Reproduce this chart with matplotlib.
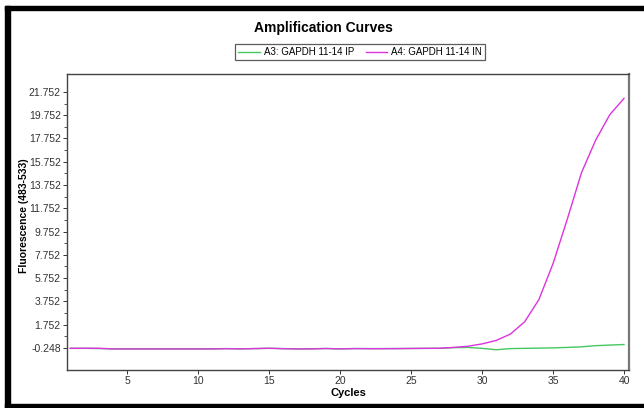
import matplotlib
matplotlib.use("Agg")
import matplotlib.pyplot as plt
from matplotlib.patches import Rectangle
from matplotlib.ticker import FixedLocator

plt.rcParams['font.family'] = ['Liberation Sans', 'DejaVu Sans']

cycles = list(range(1, 41))
ip_values = [-0.28, -0.28, -0.30, -0.32, -0.32, -0.32, -0.32, -0.32, -0.32, -0.32,
             -0.32, -0.30, -0.32, -0.30, -0.28, -0.30, -0.32, -0.31, -0.30, -0.32,
             -0.30, -0.30, -0.30, -0.30, -0.29, -0.28, -0.28, -0.22, -0.20, -0.28,
             -0.40, -0.30, -0.28, -0.26, -0.24, -0.20, -0.15, -0.05, 0.00, 0.05]
in_values = [-0.28, -0.27, -0.27, -0.33, -0.33, -0.33, -0.33, -0.33, -0.33, -0.33,
             -0.33, -0.31, -0.33, -0.30, -0.27, -0.31, -0.33, -0.33, -0.29, -0.33,
             -0.30, -0.31, -0.31, -0.30, -0.29, -0.28, -0.27, -0.20, -0.10, 0.10,
             0.40, 0.95, 2.00, 3.90, 7.00, 10.8, 14.8, 17.6, 19.8, 21.2]
series_labels = ['A3: GAPDH 11-14 IP', 'A4: GAPDH 11-14 IN']
y_ticks = [-0.248, 1.752, 3.752, 5.752, 7.752, 9.752, 11.752, 13.752, 15.752,
           17.752, 19.752, 21.752]
x_ticks = [5, 10, 15, 20, 25, 30, 35, 40]

W, H = 644, 408
fig = plt.figure(figsize=(W / 100, H / 100), dpi=100)
fig.patch.set_facecolor('white')

# black frame bands
fig.patches.append(Rectangle((5 / W, 0), 5 / W, 1 - 6 / H, transform=fig.transFigure,
                             color='black', zorder=0))
fig.patches.append(Rectangle((5 / W, 1 - 10 / H), 1 - 5 / W, 4 / H, transform=fig.transFigure,
                             color='black', zorder=0))
fig.patches.append(Rectangle((5 / W, 0), 1 - 5 / W, 4 / H, transform=fig.transFigure,
                             color='black', zorder=0))

ax = fig.add_axes([67 / W, 1 - 370 / H, (629 - 67) / W, (370 - 74) / H])
ax.plot(cycles, ip_values, color='#45c860', lw=1.0, label=series_labels[0])
ax.plot(cycles, in_values, color='#dd33dd', lw=1.0, label=series_labels[1])

ax.set_xlim(0.77, 40.35)
ax.set_ylim(-2.14, 23.29)
ax.yaxis.set_major_locator(FixedLocator(y_ticks))
ax.set_yticklabels([f"{v:.3f}" for v in y_ticks])
ax.yaxis.set_minor_locator(FixedLocator([v + 1.0 for v in y_ticks[:-1]]))
ax.xaxis.set_major_locator(FixedLocator(x_ticks))
ax.tick_params(axis='both', labelsize=7.5, colors='#333333', length=3, width=0.7, pad=1.5)
ax.tick_params(axis='y', which='minor', length=2, width=0.7, color='#555555')
for s in ax.spines.values():
    s.set_color('#444444')
    s.set_linewidth(1.0)
ax.spines['right'].set_linewidth(1.6)
ax.spines['right'].set_color('#777777')

ax.set_xlabel('Cycles', fontsize=8, fontweight='bold', labelpad=1)
ax.set_ylabel('Fluorescence (483-533)', fontsize=7.5, fontweight='bold')
ax.yaxis.set_label_coords(-0.068, 0.52)

fig.text(323 / W, 1 - 28 / H, 'Amplification Curves', ha='center', va='center',
         fontsize=10, fontweight='heavy')

leg = fig.legend(loc='center', bbox_to_anchor=(360 / W, 1 - 52 / H), ncol=2,
                 fontsize=7, frameon=True, fancybox=False, edgecolor='#333333',
                 handlelength=2.2, handletextpad=0.4, columnspacing=1.2,
                 borderpad=0.35)
leg.get_frame().set_linewidth(0.9)

fig.savefig('out.png', dpi=100, facecolor='white')
